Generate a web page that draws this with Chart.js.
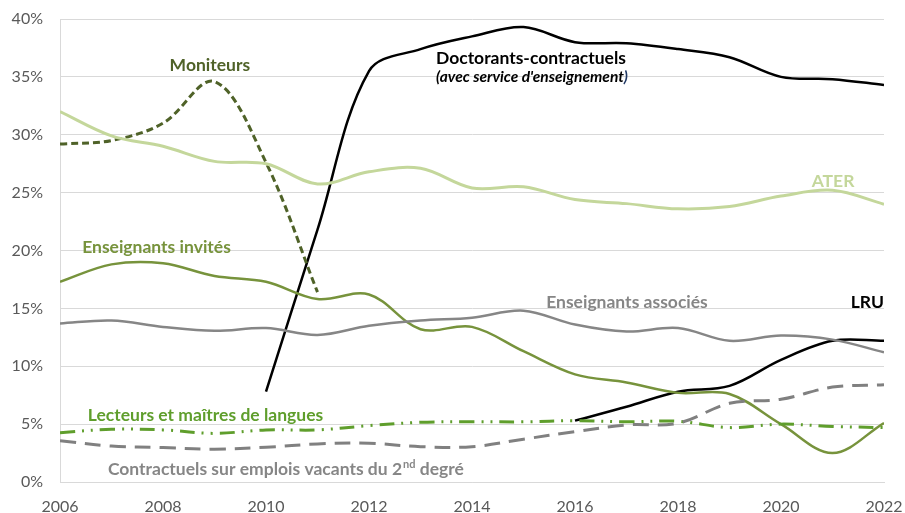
<!DOCTYPE html>
<html>
<head>
<meta charset="utf-8">
<script src="https://cdn.jsdelivr.net/npm/chart.js@4.4.1/dist/chart.umd.min.js"></script>
<style>
  body { margin: 0; background: #fff; }
  #wrap { width: 905px; height: 513px; position: relative; }
</style>
</head>
<body>
<div id="wrap"><canvas id="myChart"></canvas></div>
<script>
var years = [2006, 2007, 2008, 2009, 2010, 2011, 2012, 2013, 2014, 2015, 2016, 2017, 2018, 2019, 2020, 2021, 2022];
var xTicks = [2006, 2008, 2010, 2012, 2014, 2016, 2018, 2020, 2022];
var yTicks = [0, 5, 10, 15, 20, 25, 30, 35, 40];

// shares in % per year (null = not in the series)
var moniteurs = [29.2, 29.5, 31.0, 34.6, 27.6, 16.4, null, null, null, null, null, null, null, null, null, null, null];
var doctorants = [null, null, null, null, 7.8, 21.8, 35.5, 37.4, 38.5, 39.3, 38.0, 37.9, 37.4, 36.7, 35.0, 34.8, 34.3];
var ater = [32.0, 29.9, 29.0, 27.7, 27.5, 25.75, 26.8, 27.1, 25.4, 25.5, 24.4, 24.05, 23.6, 23.8, 24.7, 25.2, 24.0];
var invites = [17.3, 18.8, 18.9, 17.8, 17.3, 15.8, 16.2, 13.2, 13.4, 11.3, 9.3, 8.6, 7.7, 7.6, 5.0, 2.5, 5.1];
var associes = [13.7, 13.95, 13.4, 13.06, 13.3, 12.7, 13.5, 13.95, 14.2, 14.8, 13.6, 13.0, 13.3, 12.2, 12.65, 12.3, 11.2];
var lru = [null, null, null, null, null, null, null, null, null, null, 5.3, 6.5, 7.8, 8.3, 10.55, 12.2, 12.2];
var lecteurs = [4.26, 4.56, 4.5, 4.2, 4.5, 4.5, 4.87, 5.16, 5.2, 5.2, 5.3, 5.2, 5.25, 4.7, 5.0, 4.8, 4.7];
var contractuels = [3.57, 3.1, 2.97, 2.83, 3.0, 3.29, 3.35, 3.05, 3.05, 3.7, 4.35, 4.93, 5.08, 6.8, 7.15, 8.2, 8.4];

function pts(vals) {
    var out = [];
    for (var i = 0; i < years.length; i++) {
        if (vals[i] !== null) out.push({ x: years[i], y: vals[i] });
    }
    return out;
}

function line(vals, color, width, dash) {
    return {
        data: pts(vals),
        borderColor: color,
        borderWidth: width,
        borderDash: dash || [],
        pointRadius: 0,
        tension: 0.35,
        fill: false,
        borderCapStyle: 'butt'
    };
}

var FONT = 'Lato, "Open Sans", sans-serif';
var LBL = 'bold 17.5px ' + FONT;

// series names drawn next to the curves
var labelPlugin = {
    id: 'curveLabels',
    afterDatasetsDraw: function (chart) {
        var ctx = chart.ctx;
        var xs = chart.scales.x, ys = chart.scales.y;
        function txt(s, year, pct, color, align, font) {
            ctx.font = font || LBL;
            ctx.fillStyle = color;
            ctx.textAlign = align || 'left';
            ctx.textBaseline = 'middle';
            ctx.fillText(s, xs.getPixelForValue(year), ys.getPixelForValue(pct));
        }
        ctx.save();
        txt('Moniteurs', 2008.91, 36.0, '#4f6228', 'center');
        txt('Doctorants-contractuels', 2013.3, 36.6, '#000000');
        txt('(avec service d\'enseignement', 2013.3, 34.95, '#000000', 'left', 'italic bold 15.5px ' + FONT);
        ctx.font = 'italic bold 15.5px ' + FONT;
        var wp = ctx.measureText('(avec service d\'enseignement').width;
        ctx.fillStyle = '#1f3864';
        ctx.fillText(')', xs.getPixelForValue(2013.3) + wp, ys.getPixelForValue(34.95));
        txt('ATER', 2021.01, 25.95, '#c4d79b', 'center');
        txt('Enseignants invités', 2006.43, 20.3, '#77933c');
        txt('Enseignants associés', 2015.44, 15.48, '#868686');
        txt('LRU', 2022, 15.48, '#000000', 'right');
        txt('Lecteurs et maîtres de langues', 2006.54, 5.8, '#5f9e2c');

        // "2nd" with raised suffix
        var x0 = xs.getPixelForValue(2006.93), y0 = ys.getPixelForValue(1.12);
        var part1 = 'Contractuels sur emplois vacants du 2';
        ctx.font = LBL;
        ctx.fillStyle = '#868686';
        ctx.textAlign = 'left';
        ctx.textBaseline = 'middle';
        ctx.fillText(part1, x0, y0);
        var w1 = ctx.measureText(part1).width;
        ctx.font = 'bold 11px ' + FONT;
        ctx.fillText('nd', x0 + w1 + 1, y0 - 5);
        var w2 = ctx.measureText('nd').width;
        ctx.font = LBL;
        ctx.fillText(' degré', x0 + w1 + w2 + 1, y0);
        ctx.restore();
    }
};

var ctx = document.getElementById('myChart').getContext('2d');
var myChart = new Chart(ctx, {
    type: 'line',
    data: {
        datasets: [
            line(contractuels, '#808080', 3, [16, 9]),
            line(lecteurs, '#5f9e2c', 3, [15, 7, 2, 7, 2, 7]),
            line(associes, '#868686', 2.5),
            line(ater, '#c4d79b', 3),
            line(invites, '#77933c', 2.5),
            line(moniteurs, '#4f6228', 3, [7, 4]),
            line(lru, '#000000', 2.5),
            line(doctorants, '#000000', 2.5)
        ]
    },
    options: {
        responsive: true,
        maintainAspectRatio: false,
        animation: false,
        layout: { padding: { top: 19, right: 21, left: 0, bottom: 0 } },
        plugins: {
            legend: { display: false },
            tooltip: { enabled: false }
        },
        scales: {
            x: {
                type: 'linear',
                min: 2006,
                max: 2022,
                afterBuildTicks: function (axis) {
                    axis.ticks = xTicks.map(function (v) { return { value: v }; });
                },
                afterFit: function (axis) {
                    axis.height = 31;
                    axis.paddingLeft = 0;
                    axis.paddingRight = 0;
                },
                grid: { display: false, drawTicks: false },
                border: { display: true, color: '#d9d9d9', width: 1 },
                ticks: {
                    padding: 15,
                    color: '#595959',
                    font: { family: FONT, size: 16 },
                    maxRotation: 0,
                    callback: function (value) { return String(value); }
                }
            },
            y: {
                min: 0,
                max: 40,
                afterBuildTicks: function (axis) {
                    axis.ticks = yTicks.map(function (v) { return { value: v }; });
                },
                afterFit: function (axis) {
                    axis.width = 60;
                    axis.paddingTop = 10;
                    axis.paddingBottom = 10;
                },
                grid: { color: '#d9d9d9', lineWidth: 1, drawTicks: false },
                border: { display: true, color: '#d9d9d9', width: 1 },
                ticks: {
                    padding: 17,
                    color: '#595959',
                    font: { family: FONT, size: 16 },
                    callback: function (value) { return value + '%'; }
                }
            }
        }
    },
    plugins: [labelPlugin]
});
</script>
</body>
</html>
